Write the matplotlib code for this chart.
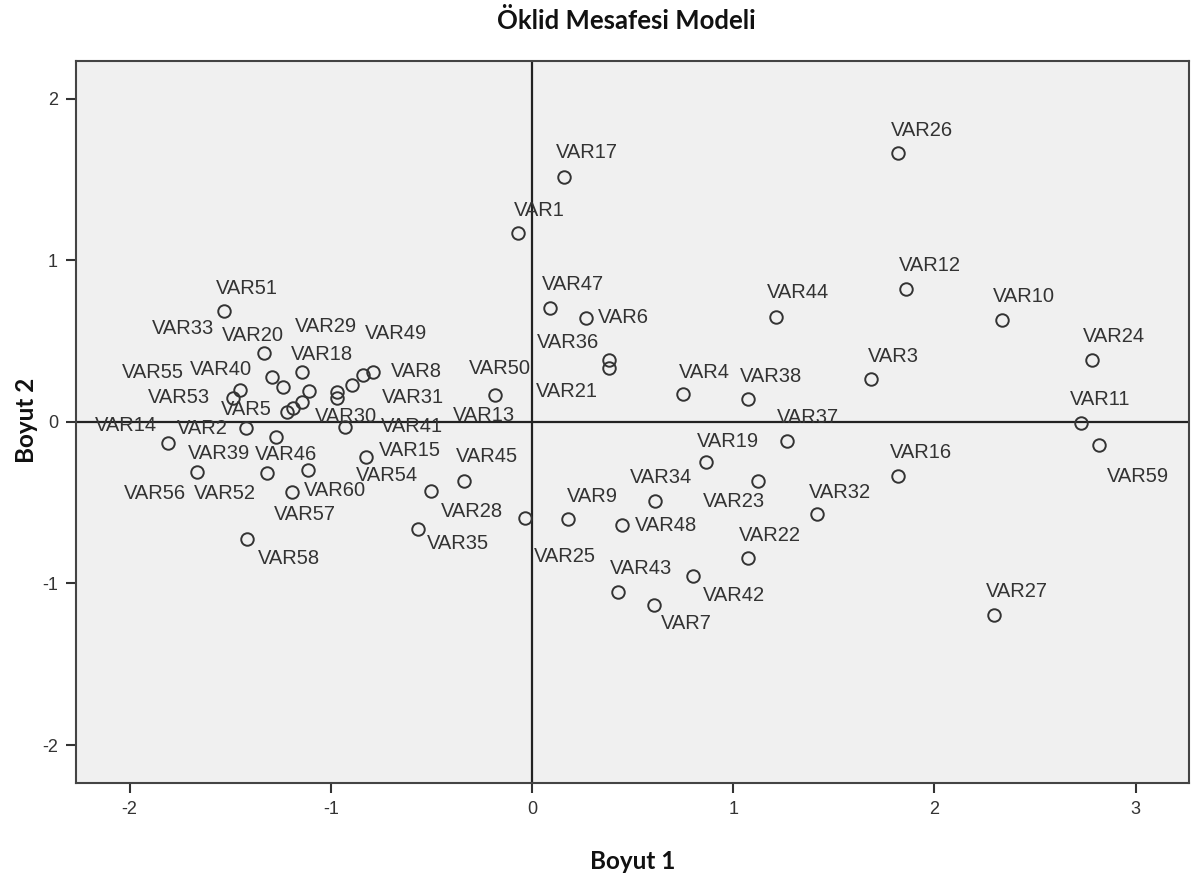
import matplotlib
matplotlib.use("Agg")
import matplotlib.pyplot as plt

# Euclidean distance model coordinates (dimension 1, dimension 2)
names = ["VAR1", "VAR17", "VAR26", "VAR12", "VAR10", "VAR44", "VAR47", "VAR6",
         "VAR36", "VAR21", "VAR24", "VAR3", "VAR4", "VAR38", "VAR11", "VAR59",
         "VAR37", "VAR19", "VAR16", "VAR23", "VAR34", "VAR32", "VAR9", "VAR48",
         "VAR22", "VAR25", "VAR43", "VAR42", "VAR7", "VAR27",
         "VAR51", "VAR20", "VAR18", "VAR33", "VAR29", "VAR40", "VAR55", "VAR13",
         "VAR54", "VAR52", "VAR5", "VAR53", "VAR41", "VAR31", "VAR8", "VAR49",
         "VAR30", "VAR2", "VAR39", "VAR14", "VAR56", "VAR46", "VAR57", "VAR15",
         "VAR60", "VAR58", "VAR50", "VAR28", "VAR45", "VAR35"]

dim1 = [-0.072, 0.157, 1.821, 1.861, 2.334, 1.215, 0.087, 0.266,
        0.385, 0.385, 2.781, 1.687, 0.748, 1.071, 2.726, 2.816,
        1.265, 0.867, 1.821, 1.121, 0.609, 1.414, 0.181, 0.445,
        1.071, -0.037, 0.425, 0.798, 0.604, 2.294,
        -1.533, -1.334, -1.141, -1.290, -1.240, -1.449, -1.484, -1.106,
        -1.141, -1.190, -1.220, -0.967, -0.967, -0.897, -0.842, -0.788,
        -0.927, -1.419, -1.270, -1.807, -1.667, -1.315, -1.111, -0.823,
        -1.195, -1.414, -0.186, -0.504, -0.340, -0.569]

dim2 = [1.170, 1.517, 1.666, 0.824, 0.632, 0.650, 0.706, 0.644,
        0.384, 0.334, 0.384, 0.266, 0.173, 0.142, -0.006, -0.142,
        -0.118, -0.248, -0.334, -0.365, -0.489, -0.570, -0.601, -0.638,
        -0.842, -0.594, -1.053, -0.954, -1.133, -1.195,
        0.687, 0.427, 0.310, 0.279, 0.217, 0.198, 0.149, 0.192,
        0.124, 0.087, 0.062, 0.186, 0.149, 0.229, 0.291, 0.310,
        -0.031, -0.037, -0.093, -0.130, -0.310, -0.316, -0.297, -0.217,
        -0.433, -0.724, 0.167, -0.427, -0.365, -0.663]

# label offsets in pixels (dx, dy) from each point, like SPSS places them
label_off = {
    "VAR1": (22, 23), "VAR17": (23, 24), "VAR26": (24, 22), "VAR12": (23, 23),
    "VAR10": (22, 23), "VAR44": (22, 24), "VAR47": (23, 23), "VAR6": (38, 0),
    "VAR36": (-41, 17), "VAR21": (-43, -23), "VAR24": (22, 23), "VAR3": (22, 23),
    "VAR4": (22, 22), "VAR38": (24, 23), "VAR11": (20, 23), "VAR59": (39, -32),
    "VAR37": (21, 24), "VAR19": (22, 21), "VAR16": (23, 23), "VAR23": (-24, -21),
    "VAR34": (6, 23), "VAR32": (23, 22), "VAR9": (24, 23), "VAR48": (44, 0),
    "VAR22": (22, 22), "VAR25": (40, -39), "VAR43": (24, 24), "VAR42": (41, -19),
    "VAR7": (33, -19), "VAR27": (23, 23),
    "VAR51": (23, 23), "VAR20": (-11, 18), "VAR18": (20, 17), "VAR33": (-89, 48),
    "VAR29": (43, 60), "VAR40": (-19, 20), "VAR55": (-81, 25), "VAR13": (175, -25),
    "VAR54": (85, -74), "VAR52": (-68, -86), "VAR5": (-40, 2), "VAR53": (-158, -6),
    "VAR41": (75, -29), "VAR31": (61, -13), "VAR8": (54, 3), "VAR49": (23, 38),
    "VAR30": (0, 10), "VAR2": (-44, -1), "VAR39": (-57, -17), "VAR14": (-42, 17),
    "VAR56": (-42, -21), "VAR46": (19, 19), "VAR57": (-4, -45), "VAR15": (43, 7),
    "VAR60": (43, 1), "VAR58": (41, -20), "VAR50": (5, 27), "VAR28": (41, -21),
    "VAR45": (23, 24), "VAR35": (40, -14),
}

x_ticks = [-2, -1, 0, 1, 2, 3]
y_ticks = [-2, -1, 0, 1, 2]

fig = plt.figure(figsize=(11.94, 8.84), dpi=100)
ax = fig.add_axes([0.0637, 0.1143, 0.9321, 0.8167])
ax.set_facecolor("#f0f0f0")

ax.axhline(0, color="#222222", lw=1.6, zorder=1)
ax.axvline(0, color="#222222", lw=1.6, zorder=1)

ax.plot(dim1, dim2, "o", ms=9, mfc="none", mec="#333333", mew=1.4, zorder=3)

for n, xv, yv in zip(names, dim1, dim2):
    dx, dy = label_off[n]
    ax.annotate(n, (xv, yv), xytext=(dx, dy), textcoords="offset pixels",
                ha="center", va="center", fontsize=14.5, color="#333333",
                family="Liberation Sans", zorder=4)

ax.set_xlim(-2.266, 3.265)
ax.set_ylim(-2.235, 2.235)
ax.set_xticks(x_ticks)
ax.set_yticks(y_ticks)
ax.set_xticklabels([str(t) for t in x_ticks], family="Liberation Sans")
ax.set_yticklabels([str(t) for t in y_ticks], family="Liberation Sans")
ax.tick_params(direction="out", length=7, width=1.5, color="#333333",
               labelsize=13, labelcolor="#333333", pad=6)
for s in ax.spines.values():
    s.set_color("#444444")
    s.set_linewidth(1.5)

fig.text(0.525, 0.977, "Öklid Mesafesi Modeli", ha="center", va="center",
         fontsize=18.5, fontweight="bold", family="Lato", color="#111111")
fig.text(0.53, 0.025, "Boyut 1", ha="center", va="center",
         fontsize=17.5, fontweight="bold", family="Lato", color="#111111")
fig.text(0.022, 0.525, "Boyut 2", ha="center", va="center", rotation=90,
         fontsize=17.5, fontweight="bold", family="Lato", color="#111111")

fig.savefig("out.png", dpi=100)
